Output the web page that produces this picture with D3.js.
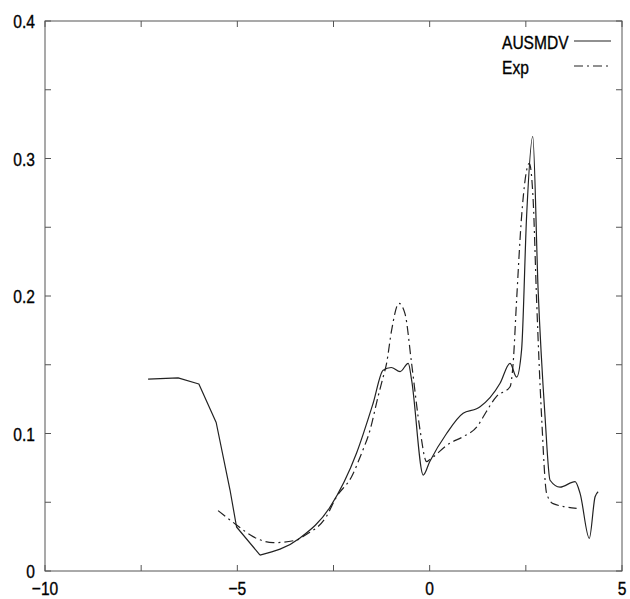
<!DOCTYPE html>
<html><head><meta charset="utf-8">
<script src="https://cdn.jsdelivr.net/npm/d3@7"></script>
<style>body{margin:0;background:#fff}text{font-family:"Liberation Sans",Arial,sans-serif;fill:#000;stroke:#000;stroke-width:0.35px}</style>
</head><body>
<svg id="c" width="630" height="599"></svg>
<script>
const xTickLabels = [-10, -5, 0, 5];
const xMinorTicks = [-7.5, -2.5, 2.5];
const yTickLabels = [0, 0.1, 0.2, 0.3, 0.4];
const yMinorTicks = [0.05, 0.15, 0.25, 0.35];
const seriesNames = ["AUSMDV", "Exp"];
const ausmdvX = [-7.32,-6.54,-6.0,-5.55,-5.19,-5.02,-4.41,-3.37,-2.59,-1.90,-1.47,-1.21,-1.0,-0.77,-0.556,-0.47,-0.166,0.0,0.44,0.87,1.22,1.31,1.83,2.09,2.26,2.39,2.52,2.68,2.82,3.0,3.13,3.39,3.78,3.91,4.15,4.30,4.38];
const ausmdvY = [0.1396,0.1404,0.136,0.108,0.0589,0.032,0.0116,0.024,0.0465,0.0858,0.122,0.146,0.148,0.145,0.151,0.139,0.0698,0.0795,0.100,0.1147,0.118,0.1195,0.1365,0.151,0.141,0.161,0.258,0.316,0.204,0.112,0.066,0.061,0.065,0.0565,0.0238,0.054,0.0577];
const expX = [-5.50,-5.02,-4.59,-4.07,-3.46,-3.24,-2.70,-2.42,-2.03,-1.77,-1.55,-1.34,-1.21,-1.12,-0.99,-0.80,-0.64,-0.47,-0.25,-0.08,0.0,0.53,0.87,1.26,1.39,1.74,2.09,2.17,2.26,2.39,2.59,2.69,2.78,2.91,3.04,3.21,3.82];
const expY = [0.0439,0.0335,0.025,0.0206,0.0225,0.026,0.039,0.054,0.0686,0.0856,0.1025,0.127,0.141,0.151,0.175,0.1947,0.187,0.151,0.1025,0.0795,0.081,0.093,0.0977,0.106,0.112,0.127,0.134,0.151,0.197,0.258,0.2965,0.27,0.197,0.112,0.0565,0.049,0.0456];

const svg = d3.select("#c");
const L=45, R=622, T=21, B=571;
const x = d3.scaleLinear().domain([-10,5]).range([L,R]);
const y = d3.scaleLinear().domain([0,0.4]).range([B,T]);
const frameColor = "#555";
const FS = 19, SX = 0.82;

svg.append("rect").attr("x",L).attr("y",T).attr("width",R-L).attr("height",B-T)
  .attr("fill","none").attr("stroke",frameColor).attr("stroke-width",1);

const allX = xTickLabels.concat(xMinorTicks);
const allY = yTickLabels.concat(yMinorTicks);
const g = svg.append("g").attr("stroke",frameColor).attr("stroke-width",1);
allX.forEach(v=>{
  g.append("line").attr("x1",x(v)).attr("x2",x(v)).attr("y1",B).attr("y2",B-6);
  g.append("line").attr("x1",x(v)).attr("x2",x(v)).attr("y1",T).attr("y2",T+6);
});
allY.forEach(v=>{
  g.append("line").attr("y1",y(v)).attr("y2",y(v)).attr("x1",L).attr("x2",L+6);
  g.append("line").attr("y1",y(v)).attr("y2",y(v)).attr("x1",R).attr("x2",R-6);
});

function label(px, py, txt, anchor){
  svg.append("text").attr("transform",`translate(${px},${py}) scale(${SX},1)`)
    .attr("text-anchor",anchor).attr("font-size",FS).text(txt);
}
const fmt = v => v < 0 ? "\u2212" + Math.abs(v) : String(v);
xTickLabels.forEach(d=>label(x(d), 595, fmt(d), "middle"));
yTickLabels.forEach(d=>label(35, y(d)+7, d===0?"0":d.toFixed(1), "end"));

const smooth = d3.line().x(d=>x(d[0])).y(d=>y(d[1])).curve(d3.curveMonotoneX);
const straight = d3.line().x(d=>x(d[0])).y(d=>y(d[1]));
const aData = ausmdvX.map((v,i)=>[v,ausmdvY[i]]);
const eData = expX.map((v,i)=>[v,expY[i]]);
const split = aData.findIndex(d=>d[0]===-4.41);
const dash = "9,4,2,4";
const sStyle = p => p.attr("fill","none").attr("stroke","#222").attr("stroke-width",1.2).attr("stroke-linejoin","round");
sStyle(svg.append("path").attr("d",straight(aData.slice(0,split+1))));
sStyle(svg.append("path").attr("d",smooth(aData.slice(split))));
sStyle(svg.append("path").attr("d",smooth(eData))).attr("stroke-dasharray",dash);

// legend
const leg = [{name:seriesNames[0],dy:0,dash:null},{name:seriesNames[1],dy:25,dash:dash}];
leg.forEach(l=>{
  label(502, 49+l.dy, l.name, "start");
  const ln = svg.append("line").attr("x1",574).attr("x2",611).attr("y1",41+l.dy).attr("y2",41+l.dy)
    .attr("stroke","#222").attr("stroke-width",1.2);
  if(l.dash) ln.attr("stroke-dasharray",l.dash);
});
</script>
</body></html>
